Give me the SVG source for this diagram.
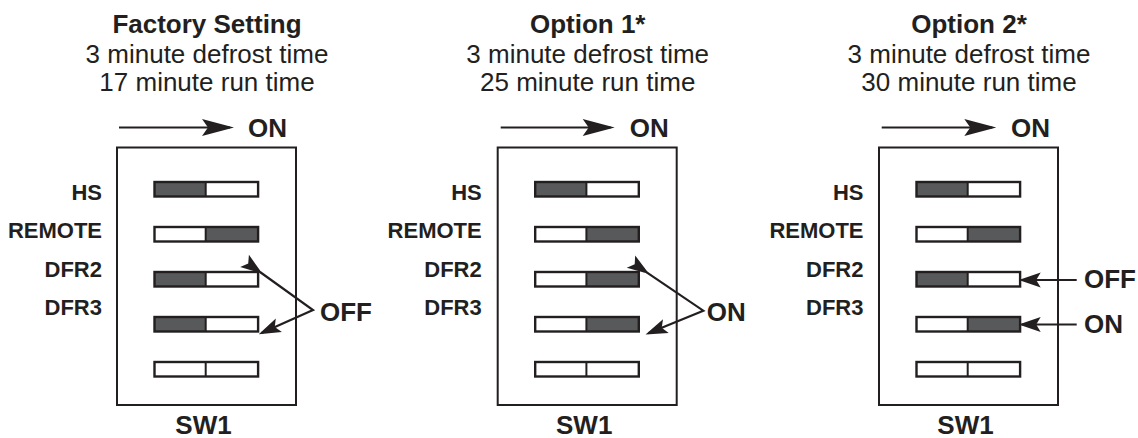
<svg xmlns="http://www.w3.org/2000/svg" width="1138" height="438" viewBox="0 0 1138 438">
<style>
text{font-family:"Liberation Sans",Arial,Helvetica,sans-serif;fill:#231f20}
.tb{font-size:26px;font-weight:bold;text-anchor:middle}
.tr{font-size:26px;text-anchor:middle}
.lb{font-size:22px;font-weight:bold;text-anchor:end}
.big{font-size:26px;font-weight:bold}
.box{fill:#fff;stroke:#231f20;stroke-width:2}
.sw{fill:none;stroke:#231f20;stroke-width:2.4}
.dk{fill:#58595b}
.dv{stroke:#231f20;stroke-width:2}
.ln{stroke:#231f20;stroke-width:2.2;fill:none}
</style>
<defs>
<marker id="ahL" markerUnits="userSpaceOnUse" viewBox="-32 -12 38 24" markerWidth="38" markerHeight="24" refX="0" refY="0" orient="auto">
<path d="M4,0 L-28,-8.5 L-22,0 L-28,8.5 Z" fill="#231f20"/>
</marker>
<marker id="ahS" markerUnits="userSpaceOnUse" viewBox="-25 -12 30 24" markerWidth="30" markerHeight="24" refX="0" refY="0" orient="auto">
<path d="M3,0 L-19,-7.5 L-14.5,0 L-19,7.5 Z" fill="#231f20"/>
</marker>
<g id="swO"><rect class="sw" x="154.5" y="0" width="103.6" height="14.5"/><line class="dv" x1="205.7" y1="0" x2="205.7" y2="14.5"/></g>
<rect id="dL" class="dk" x="154.5" y="0" width="51.2" height="14.5"/>
<rect id="dR" class="dk" x="205.7" y="0" width="52.4" height="14.5"/>
</defs>
<rect width="1138" height="438" fill="#fff"/>

<!-- Panel 1: Factory Setting -->
<g id="panel-factory">
<text class="tb" x="207" y="32.5">Factory Setting</text>
<text class="tr" x="207" y="62.5">3 minute defrost time</text>
<text class="tr" x="207" y="91">17 minute run time</text>
<g id="sw1-factory">
<rect class="box" x="117" y="147.5" width="179" height="257.5"/>
<use href="#dL" y="182"/><use href="#swO" y="182"/>
<use href="#dR" y="227"/><use href="#swO" y="227"/>
<use href="#dL" y="272"/><use href="#swO" y="272"/>
<use href="#dL" y="317"/><use href="#swO" y="317"/>
<use href="#swO" y="362"/>
</g>
<text class="lb" x="102" y="200">HS</text>
<text class="lb" x="102" y="238">REMOTE</text>
<text class="lb" x="102" y="277">DFR2</text>
<text class="lb" x="102" y="315">DFR3</text>
<text class="big" x="248" y="136.5">ON</text>
<text class="big" x="320" y="321">OFF</text>
<text class="big" x="203.5" y="433.5" text-anchor="middle">SW1</text>
</g>

<!-- Panel 2: Option 1 -->
<g id="panel-option1" transform="translate(380.7,0)">
<text class="tb" x="207" y="32.5">Option 1*</text>
<text class="tr" x="207" y="62.5">3 minute defrost time</text>
<text class="tr" x="207" y="91">25 minute run time</text>
<g id="sw1-option1">
<rect class="box" x="117" y="147.5" width="179" height="257.5"/>
<use href="#dL" y="182"/><use href="#swO" y="182"/>
<use href="#dR" y="227"/><use href="#swO" y="227"/>
<use href="#dR" y="272"/><use href="#swO" y="272"/>
<use href="#dR" y="317"/><use href="#swO" y="317"/>
<use href="#swO" y="362"/>
</g>
<text class="lb" x="101" y="200">HS</text>
<text class="lb" x="101" y="238">REMOTE</text>
<text class="lb" x="101" y="277">DFR2</text>
<text class="lb" x="101" y="315">DFR3</text>
<text class="big" x="249" y="136.5">ON</text>
<text class="big" x="326" y="321">ON</text>
<text class="big" x="203.5" y="433.5" text-anchor="middle">SW1</text>
</g>

<!-- Panel 3: Option 2 -->
<g id="panel-option2" transform="translate(762,0)">
<text class="tb" x="207" y="32.5">Option 2*</text>
<text class="tr" x="207" y="62.5">3 minute defrost time</text>
<text class="tr" x="207" y="91">30 minute run time</text>
<g id="sw1-option2">
<rect class="box" x="117" y="147.5" width="179" height="257.5"/>
<use href="#dL" y="182"/><use href="#swO" y="182"/>
<use href="#dR" y="227"/><use href="#swO" y="227"/>
<use href="#dL" y="272"/><use href="#swO" y="272"/>
<use href="#dR" y="317"/><use href="#swO" y="317"/>
<use href="#swO" y="362"/>
</g>
<text class="lb" x="101.5" y="200">HS</text>
<text class="lb" x="101.5" y="238">REMOTE</text>
<text class="lb" x="101.5" y="277">DFR2</text>
<text class="lb" x="101.5" y="315">DFR3</text>
<text class="big" x="249" y="136.5">ON</text>
<text class="big" x="322" y="287.5">OFF</text>
<text class="big" x="322" y="332.5">ON</text>
<text class="big" x="203.5" y="433.5" text-anchor="middle">SW1</text>
</g>

<!-- Connectors -->
<g id="connectors">
<line class="ln" x1="119" y1="127.5" x2="230" y2="127.5" marker-end="url(#ahL)"/>
<line class="ln" x1="500.7" y1="127.5" x2="610.7" y2="127.5" marker-end="url(#ahL)"/>
<line class="ln" x1="881.7" y1="127.5" x2="992.3" y2="127.5" marker-end="url(#ahL)"/>
<polyline class="ln" points="260,272 313,310 261.5,333" marker-start="url(#ahS)" marker-end="url(#ahS)"/>
<polyline class="ln" points="646.7,272.3 703.3,310.7 648.3,333.3" marker-start="url(#ahS)" marker-end="url(#ahS)"/>
<line class="ln" x1="1076.7" y1="280" x2="1021.7" y2="280" marker-end="url(#ahS)"/>
<line class="ln" x1="1076.7" y1="324.5" x2="1021.7" y2="324.5" marker-end="url(#ahS)"/>
</g>
</svg>
